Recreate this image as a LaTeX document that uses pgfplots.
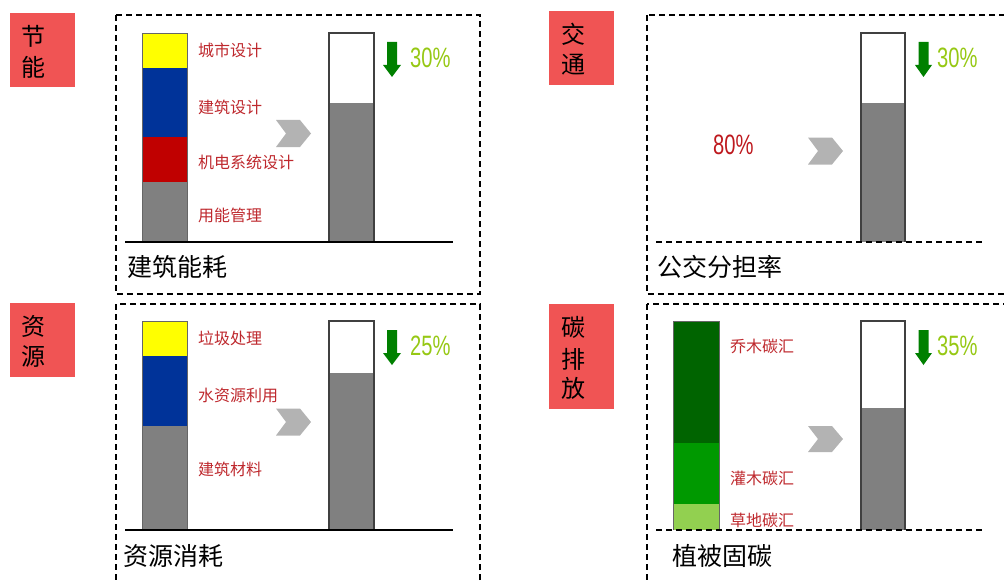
\documentclass[border=0pt]{standalone}
\usepackage{fontspec}
\setmainfont{Noto Sans CJK SC}
\newfontfamily\num{Liberation Sans}
\usepackage{pgfplots}
\pgfplotsset{compat=1.18}
\definecolor{boxred}{RGB}{240,84,84}
\definecolor{lab}{RGB}{190,40,45}
\definecolor{darklab}{RGB}{190,25,30}
\definecolor{pct}{RGB}{150,200,20}
\definecolor{arr}{RGB}{0,128,0}
\definecolor{chev}{RGB}{179,179,179}
\definecolor{bgray}{RGB}{128,128,128}
\definecolor{byellow}{RGB}{255,255,0}
\definecolor{bblue}{RGB}{0,51,153}
\definecolor{bred}{RGB}{192,0,0}
\definecolor{gdark}{RGB}{0,100,0}
\definecolor{gmid}{RGB}{0,153,0}
\definecolor{glight}{RGB}{146,208,80}
% segment: x0 x1 ytop ybottom colour
\newcommand\seg[5]{\addplot[fill=#5,draw=none] coordinates {(#1,#3) (#2,#3) (#2,#4) (#1,#4)} -- cycle;}
\newcommand\frameb[5]{\addplot[draw=#5,line width=#4,mark=none] coordinates {(#1,#3) (#1,33) (#2,33) (#2,#3)};}
\begin{document}
\begin{tikzpicture}
\begin{axis}[at={(0,0)},anchor=south west,scale only axis,width=1004bp,height=581bp,
  xmin=0,xmax=1004,ymin=0,ymax=581,y dir=reverse,hide axis,clip=false]
% ---------- dashed panels
\draw[dash pattern=on 6bp off 4bp,line width=1.1bp] (axis cs:116,15) rectangle (axis cs:480,294);
\draw[dash pattern=on 6bp off 4bp,line width=1.1bp] (axis cs:647,15) rectangle (axis cs:1012,294);
\draw[dash pattern=on 6bp off 4bp,line width=1.1bp] (axis cs:116,304) rectangle (axis cs:480,595);
\draw[dash pattern=on 6bp off 4bp,line width=1.1bp] (axis cs:647,304) rectangle (axis cs:1012,595);
% ---------- red label boxes
\fill[boxred] (axis cs:10,13) rectangle (axis cs:75,87);
\fill[boxred] (axis cs:549,11) rectangle (axis cs:614,85);
\fill[boxred] (axis cs:10,303) rectangle (axis cs:75,377);
\fill[boxred] (axis cs:549,304) rectangle (axis cs:614,409);
\begin{scope}[every node/.style={inner sep=0,font=\fontsize{24bp}{26bp}\selectfont}]
\node at (axis cs:33.5,36) {节};
\node at (axis cs:33.5,67) {能};
\node at (axis cs:573.5,34) {交};
\node at (axis cs:573.5,65) {通};
\node at (axis cs:33.5,326.5) {资};
\node at (axis cs:33.5,356.5) {源};
\node at (axis cs:573.5,327) {碳};
\node at (axis cs:573.5,359) {排};
\node at (axis cs:573.5,388) {放};
\end{scope}
% ---------- panel 1: building energy
\seg{142}{187}{33}{68}{byellow}
\seg{142}{187}{68}{137}{bblue}
\seg{142}{187}{137}{182}{bred}
\seg{142}{187}{182}{242}{bgray}
\addplot[draw=black!60,line width=0.8bp] coordinates {(142,242) (142,33) (187,33) (187,242)};
\seg{329}{374}{33}{103}{white}
\seg{329}{374}{103}{242}{bgray}
\frameb{329}{374}{242}{1.4bp}{black!75}
% ---------- panel 2: public transport share
\seg{861}{905}{33}{103}{white}
\seg{861}{905}{103}{242}{bgray}
\frameb{861}{905}{242}{1.4bp}{black!75}
% ---------- panel 3: resources
\seg{142}{187}{321}{356}{byellow}
\seg{142}{187}{356}{426}{bblue}
\seg{142}{187}{426}{530}{bgray}
\addplot[draw=black!60,line width=0.8bp] coordinates {(142,530) (142,321) (187,321) (187,530)};
\seg{329}{374}{321}{373}{white}
\seg{329}{374}{373}{530}{bgray}
\addplot[draw=black!75,line width=1.4bp] coordinates {(329,530) (329,321) (374,321) (374,530)};
% ---------- panel 4: carbon sink
\seg{673}{719}{321}{443}{gdark}
\seg{673}{719}{443}{504}{gmid}
\seg{673}{719}{504}{530}{glight}
\addplot[draw=black!60,line width=0.8bp] coordinates {(673,530) (673,321) (719,321) (719,530)};
\seg{861}{905}{321}{408}{white}
\seg{861}{905}{408}{530}{bgray}
\addplot[draw=black!75,line width=1.4bp] coordinates {(861,530) (861,321) (905,321) (905,530)};
% ---------- baselines
\draw[line width=1.3bp] (axis cs:125,242) -- (axis cs:453,242);
\draw[line width=1.3bp] (axis cs:125,530) -- (axis cs:453,530);
\draw[dash pattern=on 6bp off 4bp,line width=1.1bp] (axis cs:656,242) -- (axis cs:985,242);
\draw[dash pattern=on 6bp off 4bp,line width=1.1bp] (axis cs:656,530) -- (axis cs:985,530);
% ---------- chevrons
\fill[chev] (axis cs:276,120) -- (axis cs:300,120) -- (axis cs:311,133.5) -- (axis cs:300,147) -- (axis cs:276,147) -- (axis cs:286,133.5) -- cycle;
\fill[chev] (axis cs:808,137.5) -- (axis cs:832,137.5) -- (axis cs:843,151) -- (axis cs:832,164.5) -- (axis cs:808,164.5) -- (axis cs:818,151) -- cycle;
\fill[chev] (axis cs:276,408.5) -- (axis cs:300,408.5) -- (axis cs:311,422) -- (axis cs:300,435.5) -- (axis cs:276,435.5) -- (axis cs:286,422) -- cycle;
\fill[chev] (axis cs:808,426) -- (axis cs:832,426) -- (axis cs:843,439) -- (axis cs:832,452) -- (axis cs:808,452) -- (axis cs:818,439) -- cycle;
% ---------- green down arrows
\fill[arr] (axis cs:387,42) -- (axis cs:397,42) -- (axis cs:397,65) -- (axis cs:401,65) -- (axis cs:392,77) -- (axis cs:383,65) -- (axis cs:387,65) -- cycle;
\fill[arr] (axis cs:918.5,42) -- (axis cs:928.5,42) -- (axis cs:928.5,65) -- (axis cs:932,65) -- (axis cs:923.5,77) -- (axis cs:915,65) -- (axis cs:918.5,65) -- cycle;
\fill[arr] (axis cs:387,330) -- (axis cs:397,330) -- (axis cs:397,353) -- (axis cs:401,353) -- (axis cs:392,365) -- (axis cs:383,353) -- (axis cs:387,353) -- cycle;
\fill[arr] (axis cs:918.5,330) -- (axis cs:928.5,330) -- (axis cs:928.5,353) -- (axis cs:932,353) -- (axis cs:923.5,365) -- (axis cs:915,353) -- (axis cs:918.5,353) -- cycle;
% ---------- percentages
\begin{scope}[every node/.style={inner sep=0,xscale=0.72,font=\num\fontsize{28bp}{30bp}\selectfont}]
\node[text=pct,anchor=west] at (axis cs:410,58) {30\%};
\node[text=pct,anchor=west] at (axis cs:937,58) {30\%};
\node[text=pct,anchor=west] at (axis cs:410,346) {25\%};
\node[text=pct,anchor=west] at (axis cs:937,346) {35\%};
\node[text=darklab,anchor=west] at (axis cs:713,145) {80\%};
\end{scope}
% ---------- bar labels
\begin{scope}[every node/.style={inner sep=0,anchor=west,text=lab,font=\fontsize{16bp}{18bp}\selectfont}]
\node at (axis cs:198,50) {城市设计};
\node at (axis cs:198,107) {建筑设计};
\node at (axis cs:198,162) {机电系统设计};
\node at (axis cs:198,215) {用能管理};
\node at (axis cs:198,338) {垃圾处理};
\node at (axis cs:198,395) {水资源利用};
\node at (axis cs:198,469) {建筑材料};
\node at (axis cs:730,346) {乔木碳汇};
\node at (axis cs:730,478) {灌木碳汇};
\node at (axis cs:730,520) {草地碳汇};
\end{scope}
% ---------- panel titles
\begin{scope}[every node/.style={inner sep=0,anchor=west,font=\fontsize{25bp}{27bp}\selectfont}]
\node at (axis cs:127,267) {建筑能耗};
\node at (axis cs:657,267) {公交分担率};
\node at (axis cs:123,556.5) {资源消耗};
\node at (axis cs:672,556) {植被固碳};
\end{scope}
\end{axis}
\pgfresetboundingbox
\path[use as bounding box] (0,0) rectangle (1004bp,581bp);
\end{tikzpicture}
\end{document}
